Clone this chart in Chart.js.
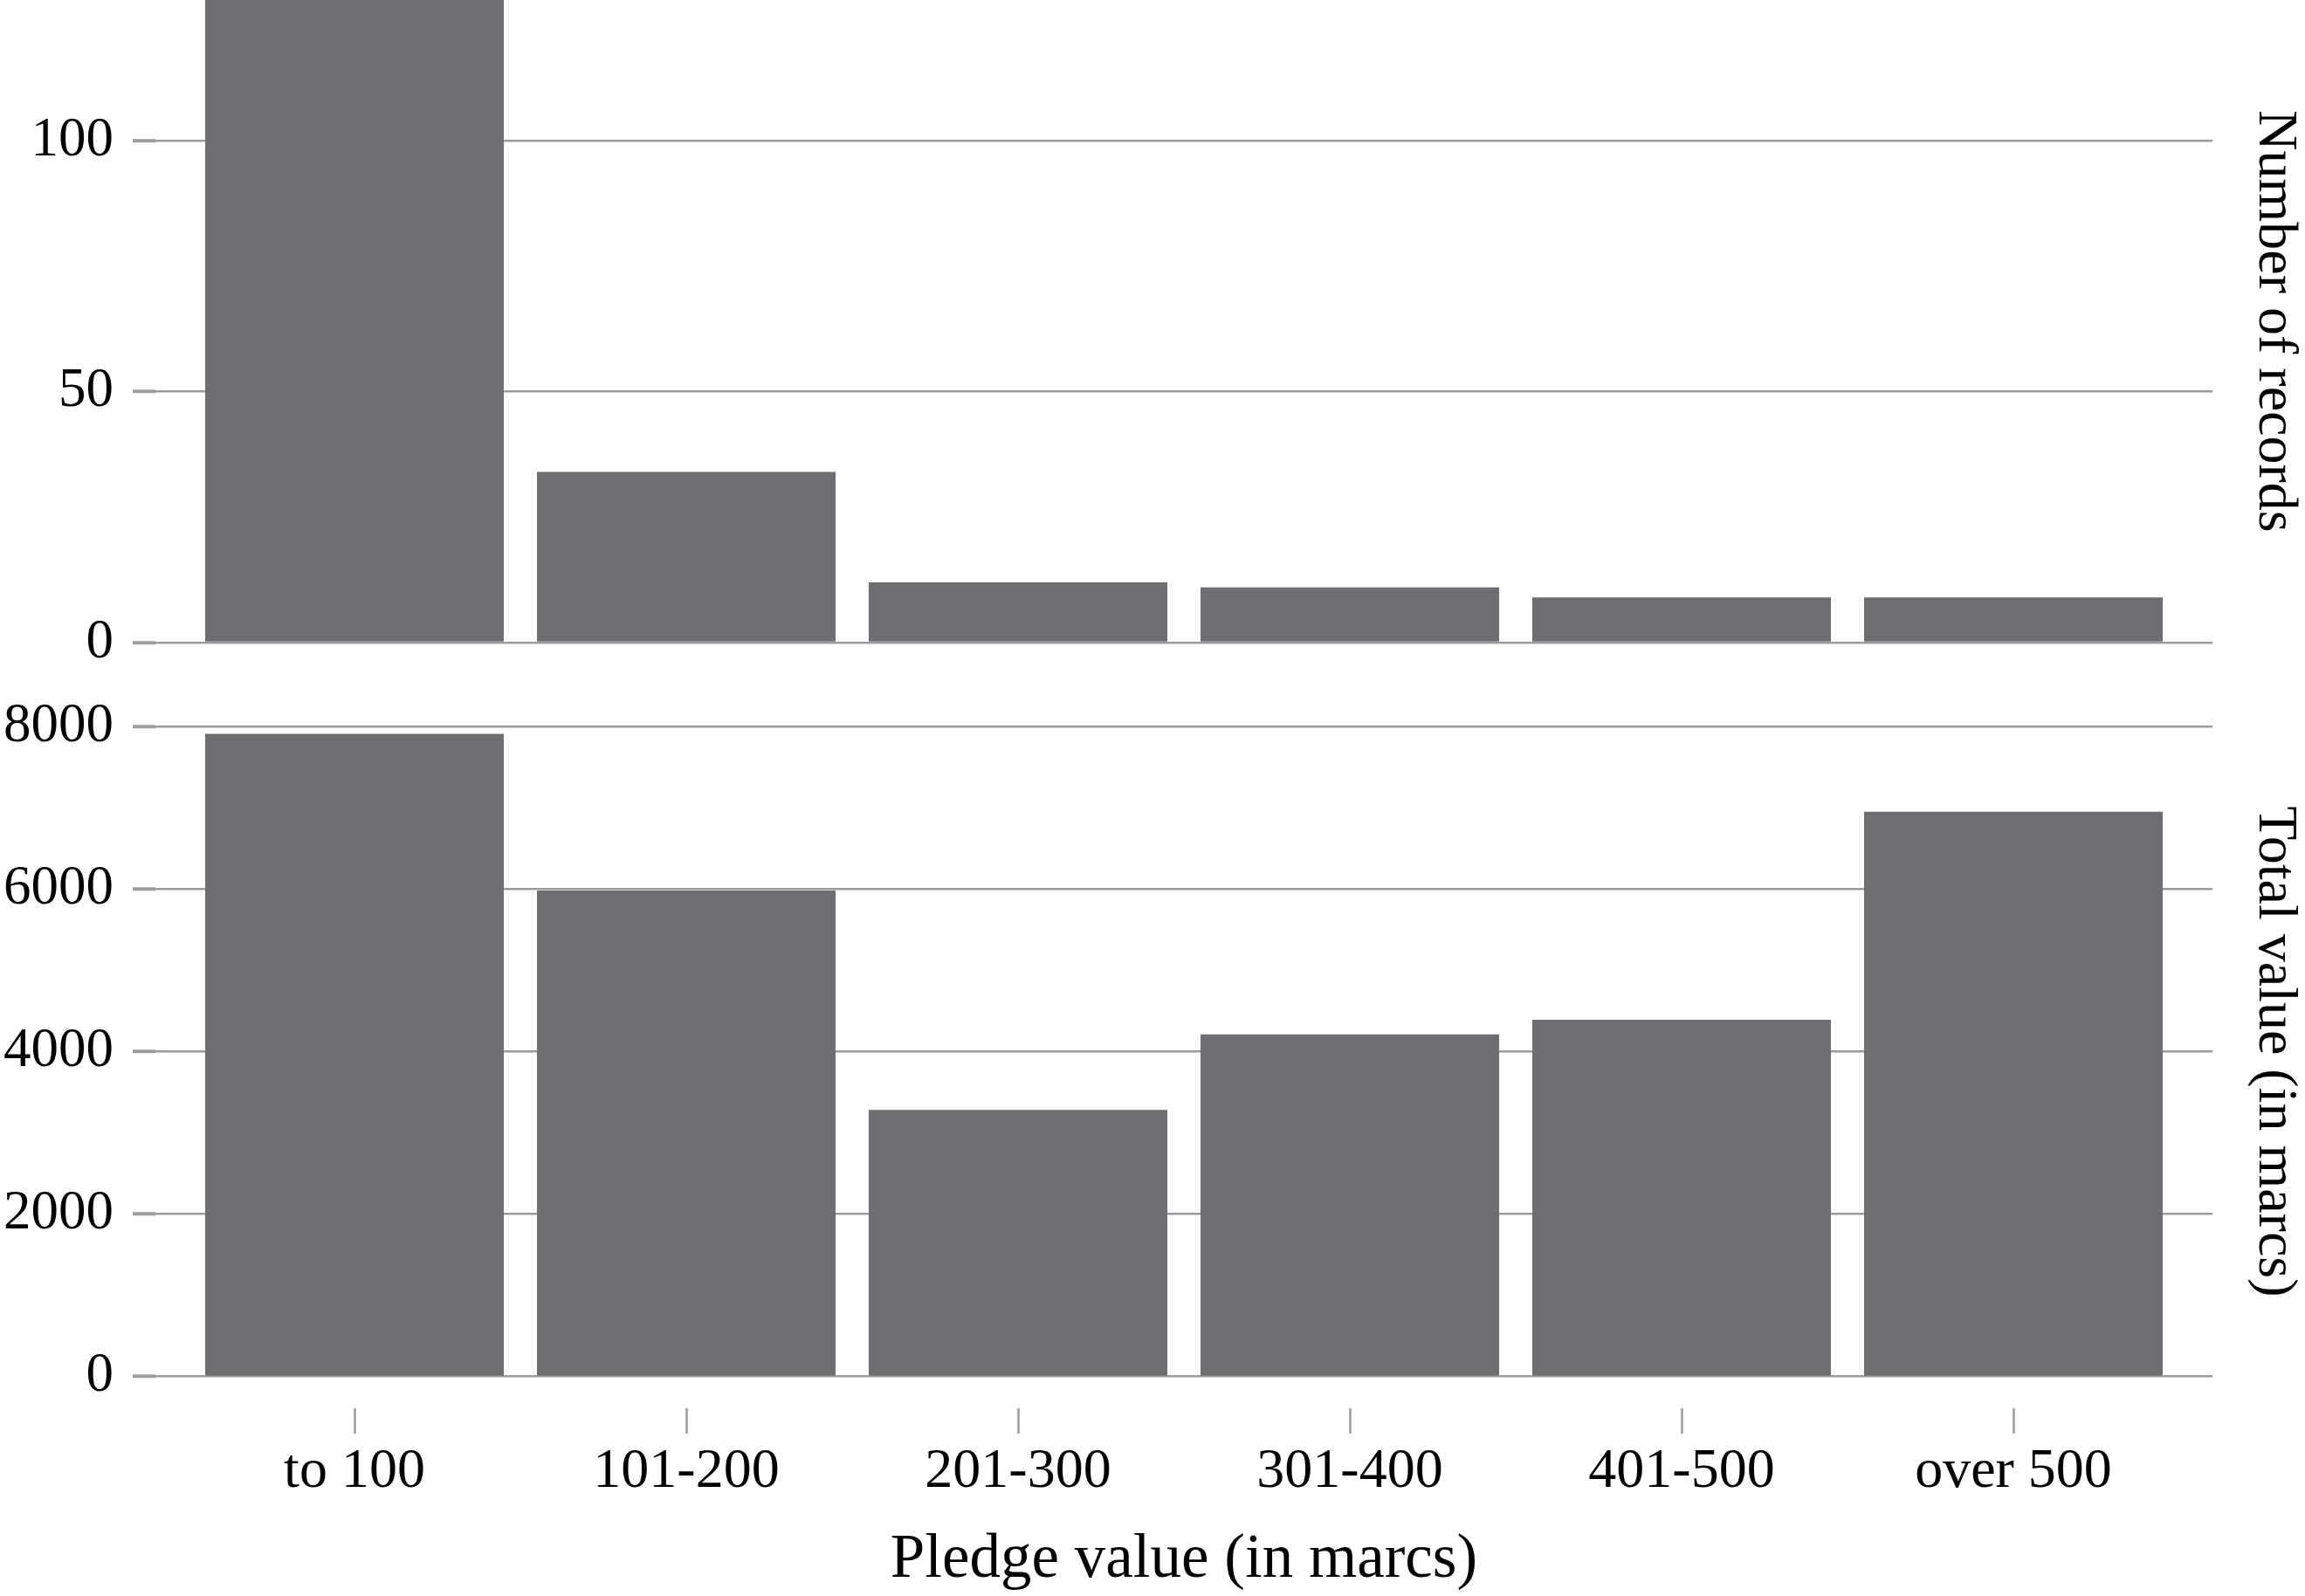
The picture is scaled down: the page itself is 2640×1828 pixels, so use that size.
<!DOCTYPE html>
<html>
<head>
<meta charset="utf-8">
<script src="https://cdn.jsdelivr.net/npm/chart.js@4/dist/chart.umd.min.js"></script>
<style>
  html, body { margin: 0; padding: 0; background: #ffffff; }
  body { width: 2640px; height: 1828px; position: relative; overflow: hidden; }
  canvas { position: absolute; left: 0; }
  #top { top: 0px; }
  #bottom { top: 790px; }
</style>
</head>
<body>
<canvas id="top" width="2640" height="800"></canvas>
<canvas id="bottom" width="2640" height="1038"></canvas>
<script>
// ---- data ----
const categories = ['to 100', '101-200', '201-300', '301-400', '401-500', 'over 500'];
const records = [135, 34, 12, 11, 9, 9];          // first bar runs off the top of the panel
const totals = [7910, 5980, 3280, 4210, 4390, 6950];
const recordTicks = [0, 50, 100];
const totalTicks = [0, 2000, 4000, 6000, 8000];
const recordsTitle = 'Number of records';
const totalsTitle = 'Total value (in marcs)';
const xTitle = 'Pledge value (in marcs)';

// ---- style ----
const FONT = '"Liberation Serif", "Times New Roman", serif';
const BAR = '#6d6e71';
const GRID = '#9c9c9c';

Chart.defaults.font.family = FONT;
Chart.defaults.color = '#000000';

function toPoints(values) {
  return values.map((v, i) => ({ x: i, y: v }));
}
function catTicks(axis) {
  axis.ticks = categories.map((_, i) => ({ value: i }));
}
function leftAxis(tickValues, min, max) {
  return {
    type: 'linear',
    position: 'left',
    min: min,
    max: max,
    afterBuildTicks: (axis) => { axis.ticks = tickValues.map(v => ({ value: v })); },
    afterFit: (axis) => { axis.width = 178; axis.paddingTop = 0; axis.paddingBottom = 0; },
    border: { display: false },
    grid: { color: GRID, lineWidth: 2.5, tickWidth: 4, tickLength: 26, tickColor: GRID },
    ticks: { font: { size: 63, family: FONT }, color: '#000', padding: 22, callback: (v) => String(v) }
  };
}
function rightTitleAxis(text) {
  return {
    type: 'linear',
    position: 'right',
    afterFit: (axis) => { axis.width = 106; axis.paddingTop = 0; axis.paddingBottom = 0; },
    border: { display: false },
    grid: { display: false, drawTicks: false },
    ticks: { display: false },
    title: { display: true, text: text, color: '#000', font: { size: 64, family: FONT, lineHeight: 1.1 }, padding: 0 }
  };
}
function dataset(values) {
  return {
    data: toPoints(values),
    backgroundColor: BAR,
    borderWidth: 0,
    barPercentage: 0.9,
    categoryPercentage: 1.0,
    xAxisID: 'x',
    yAxisID: 'y'
  };
}
const common = {
  responsive: false,
  devicePixelRatio: 1,
  animation: false,
  plugins: { legend: { display: false }, tooltip: { enabled: false } }
};

// ---- top panel: number of records ----
new Chart(document.getElementById('top'), {
  type: 'bar',
  data: { datasets: [dataset(records)] },
  options: Object.assign({}, common, {
    layout: { padding: { top: 0, bottom: 64, left: 0, right: 0 } },
    scales: {
      x: {
        type: 'linear', min: -0.6, max: 5.6, offset: false,
        afterBuildTicks: catTicks,
        afterFit: (axis) => { axis.height = 0; },
        border: { display: false },
        grid: { display: false, drawTicks: false, offset: false },
        ticks: { display: false }
      },
      y: leftAxis(recordTicks, 0, 128),
      yR: rightTitleAxis(recordsTitle)
    }
  })
});

// keep the bottom right-hand title centred on the 0..8000 range
const centreTitle = {
  id: 'centreTitle',
  afterLayout(chart) {
    const r = chart.scales.yR, y = chart.scales.y;
    if (r && y) { r.bottom = y.getPixelForValue(0); r.top = y.getPixelForValue(totalTicks[totalTicks.length - 1]); }
  }
};

// ---- bottom panel: total value ----
new Chart(document.getElementById('bottom'), {
  type: 'bar',
  data: { datasets: [dataset(totals)] },
  plugins: [centreTitle],
  options: Object.assign({}, common, {
    layout: { padding: { top: 42, bottom: 0, left: 0, right: 0 } },
    scales: {
      x: {
        type: 'linear', min: -0.6, max: 5.6, offset: false,
        afterBuildTicks: catTicks,
        afterFit: (axis) => { axis.height = 215; },
        border: { display: false },
        grid: { drawOnChartArea: false, drawTicks: true, offset: false, tickLength: 29, tickWidth: 2.5, tickColor: GRID, color: GRID },
        ticks: {
          font: { size: 64, family: FONT }, color: '#000', padding: 6,
          autoSkip: false, maxRotation: 0,
          callback: (v) => categories[v]
        },
        title: { display: true, text: xTitle, color: '#000', font: { size: 71, family: FONT, lineHeight: 1.15 }, padding: { top: 0, bottom: 0 } }
      },
      y: leftAxis(totalTicks, -390, 8000),
      yR: rightTitleAxis(totalsTitle)
    }
  })
});
</script>
</body>
</html>
